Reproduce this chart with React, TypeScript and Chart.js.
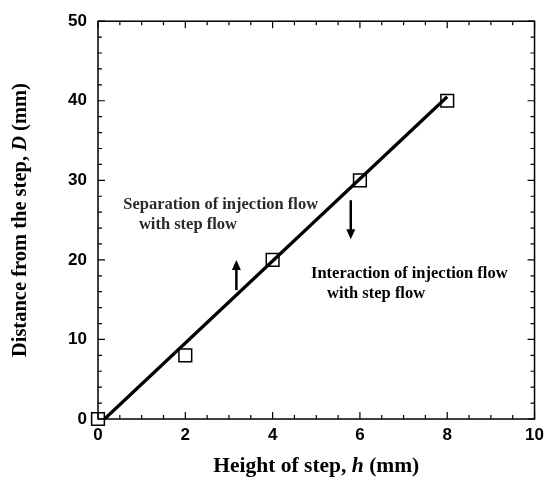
import React, { useEffect, useRef } from "react";
import { Chart, registerables } from "chart.js";

Chart.register(...registerables);

// ---- data ----
const stepHeights = [0, 2, 4, 6, 8];
const distances = [0, 8, 20, 30, 40];
const fitH = [0.15, 8.0];
const fitD = [0, 40.5];

const xTickValues = [0, 2, 4, 6, 8, 10];
const yTickValues = [0, 10, 20, 30, 40, 50];

const xTitleParts = ["Height of step, ", "h", " (mm)"];
const yTitleParts = ["Distance from the step, ", "D", " (mm)"];

const sepLines = ["Separation of injection flow", "with step flow"];
const sepPosX = [2.81, 2.06];
const sepPosY = [26.9, 24.4];

const intLines = ["Interaction of injection flow", "with step flow"];
const intPosX = [7.13, 6.37];
const intPosY = [18.2, 15.8];

// arrows: [x, fromY, toY]
const upArrow = [3.17, 16.2, 20.0];
const downArrow = [5.79, 27.5, 22.6];

const SERIF = "'Liberation Serif', 'Times New Roman', serif";
const TICKFONT = "'Liberation Sans Narrow', 'Liberation Sans', Arial, sans-serif";

function drawParts(ctx: CanvasRenderingContext2D, parts: string[], size: number) {
  const fonts = [
    `bold ${size}px ${SERIF}`,
    `bold italic ${size}px ${SERIF}`,
    `bold ${size}px ${SERIF}`,
  ];
  let total = 0;
  const widths = parts.map((p, i) => {
    ctx.font = fonts[i];
    const w = ctx.measureText(p).width;
    total += w;
    return w;
  });
  let x = -total / 2;
  parts.forEach((p, i) => {
    ctx.font = fonts[i];
    ctx.fillText(p, x, 0);
    x += widths[i];
  });
}

function arrow(ctx: CanvasRenderingContext2D, x: number, y0: number, y1: number) {
  const dir = y1 < y0 ? -1 : 1;
  const head = 10;
  ctx.beginPath();
  ctx.moveTo(x, y0);
  ctx.lineTo(x, y1 - dir * head * 0.6);
  ctx.lineWidth = 2.5;
  ctx.strokeStyle = "#000";
  ctx.stroke();
  ctx.beginPath();
  ctx.moveTo(x, y1);
  ctx.lineTo(x - 4.5, y1 - dir * head);
  ctx.lineTo(x + 4.5, y1 - dir * head);
  ctx.closePath();
  ctx.fillStyle = "#000";
  ctx.fill();
}

const framePlugin = {
  id: "frameTicks",
  afterDraw(chart: any) {
    const { ctx, chartArea, scales } = chart;
    const xs = scales.x;
    const ys = scales.y;
    const { left, right, top, bottom } = chartArea;
    ctx.save();
    ctx.strokeStyle = "#000";
    ctx.lineWidth = 1.5;
    ctx.strokeRect(left, top, right - left, bottom - top);
    ctx.lineWidth = 1.2;
    for (let i = 0; i <= 20; i++) {
      const v = i * 0.5;
      const px = xs.getPixelForValue(v);
      const len = i % 4 === 0 ? 7 : 4;
      ctx.beginPath();
      ctx.moveTo(px, bottom);
      ctx.lineTo(px, bottom - len);
      ctx.moveTo(px, top);
      ctx.lineTo(px, top + len);
      ctx.stroke();
    }
    for (let i = 0; i <= 25; i++) {
      const v = i * 2;
      const py = ys.getPixelForValue(v);
      const len = i % 5 === 0 ? 7 : 4;
      ctx.beginPath();
      ctx.moveTo(left, py);
      ctx.lineTo(left + len, py);
      ctx.moveTo(right, py);
      ctx.lineTo(right - len, py);
      ctx.stroke();
    }

    // axis titles
    ctx.fillStyle = "#000";
    ctx.textBaseline = "middle";
    ctx.textAlign = "left";
    ctx.save();
    ctx.translate((left + right) / 2, 466);
    drawParts(ctx, xTitleParts, 21.5);
    ctx.restore();
    ctx.save();
    ctx.translate(21, (top + bottom) / 2);
    ctx.rotate(-Math.PI / 2);
    drawParts(ctx, yTitleParts, 20.5);
    ctx.restore();

    // annotations
    ctx.textAlign = "center";
    ctx.fillStyle = "#2a2a2a";
    ctx.font = `bold 16.5px ${SERIF}`;
    sepLines.forEach((t, i) => {
      ctx.fillText(t, xs.getPixelForValue(sepPosX[i]), ys.getPixelForValue(sepPosY[i]));
    });
    ctx.fillStyle = "#000";
    ctx.font = `bold 16.5px ${SERIF}`;
    intLines.forEach((t, i) => {
      ctx.fillText(t, xs.getPixelForValue(intPosX[i]), ys.getPixelForValue(intPosY[i]));
    });

    arrow(ctx, xs.getPixelForValue(upArrow[0]), ys.getPixelForValue(upArrow[1]), ys.getPixelForValue(upArrow[2]));
    arrow(ctx, xs.getPixelForValue(downArrow[0]), ys.getPixelForValue(downArrow[1]), ys.getPixelForValue(downArrow[2]));
    ctx.restore();
  },
};

export default function App() {
  const ref = useRef<HTMLCanvasElement | null>(null);
  useEffect(() => {
    if (!ref.current) return;
    const chart = new Chart(ref.current, {
      type: "scatter",
      data: {
        datasets: [
          {
            label: "fit",
            data: fitH.map((h, i) => ({ x: h, y: fitD[i] })),
            showLine: true,
            borderColor: "#000",
            borderWidth: 3.2,
            pointRadius: 0,
            clip: false,
          },
          {
            label: "measured",
            data: stepHeights.map((h, i) => ({ x: h, y: distances[i] })),
            showLine: false,
            pointStyle: "rect",
            pointRadius: 9,
            borderColor: "#000",
            borderWidth: 1.5,
            backgroundColor: "rgba(0,0,0,0)",
            clip: false,
          },
        ],
      },
      options: {
        animation: false,
        responsive: false,
        devicePixelRatio: 1,
        layout: { padding: { top: 16, right: 13, left: 0, bottom: 0 } },
        plugins: { legend: { display: false }, tooltip: { enabled: false } },
        scales: {
          x: {
            type: "linear",
            min: 0,
            max: 10,
            afterFit: (s: any) => {
              s.height = 60;
            },
            afterBuildTicks: (s: any) => {
              s.ticks = xTickValues.map((v) => ({ value: v }));
            },
            grid: { display: false, drawTicks: false },
            border: { display: false },
            ticks: {
              padding: 6,
              color: "#000",
              font: { family: TICKFONT, size: 17, weight: "bold" },
            },
          },
          y: {
            type: "linear",
            min: 0,
            max: 50,
            afterFit: (s: any) => {
              s.width = 98;
            },
            afterBuildTicks: (s: any) => {
              s.ticks = yTickValues.map((v) => ({ value: v }));
            },
            grid: { display: false, drawTicks: false },
            border: { display: false },
            ticks: {
              padding: 11,
              color: "#000",
              font: { family: TICKFONT, size: 17, weight: "bold" },
            },
          },
        },
      } as any,
      plugins: [framePlugin],
    });
    return () => chart.destroy();
  }, []);
  return (
    <div style={{ position: "absolute", left: 0, top: 0, width: 550, height: 479, background: "#fff" }}>
      <canvas ref={ref} width={550} height={479} />
    </div>
  );
}
